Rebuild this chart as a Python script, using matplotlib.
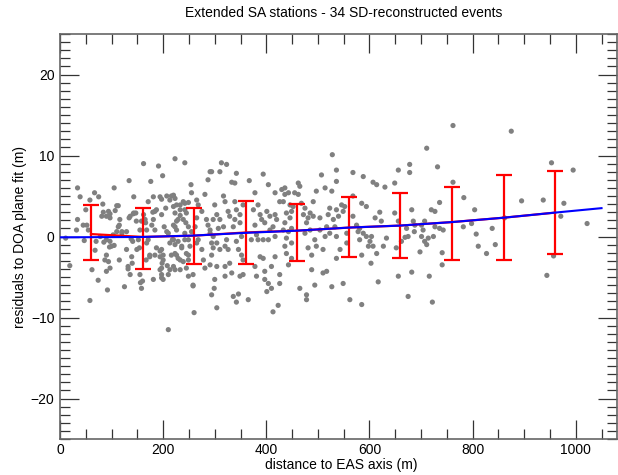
import matplotlib
matplotlib.use("Agg")
import matplotlib.pyplot as plt
from matplotlib.ticker import MultipleLocator

plt.rcParams['font.family'] = ['Liberation Sans', 'DejaVu Sans']

# ---- scatter data (distance to axis [m], residual [m]) ----
dist = [11, 19, 34, 39, 34, 32, 58, 52, 55, 67, 75, 83, 62, 74, 92, 105, 90, 94, 90, 84,
        90, 97, 85, 90, 100, 110, 107, 116, 113, 110, 120, 129, 115, 125, 134, 143, 134, 132, 140, 148,
        147, 142, 138, 141, 162, 176, 191, 199, 223, 242, 181, 171, 184, 181, 187, 178, 184, 162, 158, 166,
        155, 152, 160, 158, 155, 168, 171, 174, 184, 181, 197, 207, 216, 213, 197, 194, 200, 198, 197, 197,
        210, 220, 210, 220, 223, 226, 220, 226, 210, 213, 220, 216, 223, 233, 239, 242, 233, 239, 242, 236,
        229, 239, 245, 233, 254, 255, 249, 258, 260, 249, 255, 252, 249, 268, 275, 278, 281, 268, 275, 281,
        284, 287, 287, 291, 294, 299, 291, 294, 294,
        294, 313, 323, 310, 342, 333, 339, 300, 304, 297, 310, 317, 320, 326, 329, 291, 297, 307, 317, 304,
        297, 310, 323, 320, 326, 291, 304, 320, 329, 300, 320, 333, 304, 336, 342, 346, 339, 342, 339, 349,
        349, 336, 355, 342, 346, 352, 355, 352, 355, 349, 365, 367, 378, 394, 404, 375, 384, 388, 391, 401,
        397, 407, 407, 417, 420, 413, 378, 381, 371, 384, 394, 404, 417, 388, 394, 378, 381, 397, 397, 404,
        410, 401, 410, 417, 426, 426, 413, 423, 417, 430, 436, 443, 436, 426, 433, 446, 439, 449, 446, 452,
        436, 433, 443, 449, 439, 436, 449, 439, 449, 443, 462, 465, 455, 462, 468, 475, 472, 481, 485, 478,
        491, 485, 475, 465, 478, 478, 494, 488, 481, 488, 497, 494, 491, 497, 504, 514, 527, 507, 536, 528,
        536, 568, 588, 504, 514, 517, 510, 523, 523, 520, 530, 533, 540, 536, 546, 552, 549, 536, 543, 536,
        556, 556, 517, 510, 527, 549, 562, 585, 568, 575, 578, 581, 585, 581, 588, 594, 598, 568, 585, 594,
        607, 614, 630, 649, 620, 611, 623, 604, 601, 607, 614, 603, 627, 633, 617, 656, 678, 678, 711, 732,
        762, 875, 649, 656, 652, 662, 669, 675, 672, 685, 688, 687, 682, 656, 682, 675, 716, 722, 701, 707,
        704, 701, 707, 711, 714, 724, 727, 720, 727, 736, 736, 743, 741, 741, 698, 762, 783, 782, 804, 798,
        807, 811, 827, 838, 844, 895,
        953, 995, 937, 977, 971, 1022, 862, 957, 944,
        58, 50, 47, 45, 70, 68, 81, 97, 94, 113, 115, 103, 120, 78, 97, 96, 105, 87, 97, 132,
        136, 139, 129, 143, 136, 154, 149, 156, 165, 168, 167, 174, 180, 194, 197, 205, 202, 207, 187, 194,
        200, 208, 213, 194, 197, 200, 223, 220, 223, 226, 233, 229, 223, 218, 223, 229, 236, 226, 233, 242,
        249, 245, 244, 242, 249, 245, 249, 258, 258, 265, 265, 262, 265]
resid = [-0.2, -3.6, 6.0, 4.9, 2.1, 0.8, -7.9, 1.4, 0.8, 5.4, 4.9, 4.0, -4.1, -5.4, -6.6, 6.0, -2.3, -3.1, -4.3, 3.0,
         2.5, 2.8, -0.7, -0.4, -1.2, 3.8, 3.2, 2.1, 1.2, 0.6, 0.4, 0.6, -2.9, -6.2, 6.9, 4.9, 2.3, -3.7, -3.3, 1.9,
         2.9, 2.8, -0.3, -0.6, 9.0, 6.8, 8.7, 7.5, 9.6, 9.1, 4.9, 4.3, 3.1, 2.1, 3.3, 1.4, 0.8, 2.7, 1.9, 1.7,
         0.8, -0.4, -5.5, -6.4, -4.7, -0.8, -0.4, -2.5, -2.3, -5.3, 4.6, 5.0, 5.0, 4.5, -1.6, -2.5, -2.3, -3.3, -3.9, -5.1,
         -4.7, -3.7, -11.5, 3.7, 2.9, 1.9, 1.4, 0.8, 0.4, -0.8, -0.4, -2.3, -2.1, 3.9, 4.3, 3.3, 2.6, 2.1, -0.4, -1.2,
         -2.7, -3.1, -3.9, -4.1, 6.4, 5.4, -4.9, -6.0, -9.4, 1.2, 0.6, -1.2, -2.3, -0.4, -1.6, -2.9, -3.9, 3.9, 3.1, 5.2,
         2.1, 1.4, 7.0, 8.0, -7.2, -6.4, 0.4, -0.8, -2.3,
         8.0, 9.1, 8.9, 8.0, 7.8, 6.7, 6.6, 3.9, 2.7, 2.1, 2.1, 5.0, 4.3, 3.1, 2.5, 0.8, 0.0, 1.0, 1.2, -0.8,
         -1.4, -1.6, -0.4, -1.2, -1.6, -3.5, -3.7, -3.7, -3.3, -5.3, -4.9, -4.5, -8.8, -7.4, -8.1, -7.1, 4.3, 3.3, 2.1, 2.7,
         1.7, 1.2, 3.9, -0.6, -1.6, -2.3, -2.9, 0.0, -4.7, -4.9, -7.8, 6.9, 5.4, 7.7, 6.4, 3.3, 3.9, 2.7, 2.1, 3.1,
         1.7, 2.5, 0.8, 2.7, 2.1, 1.2, 1.4, 0.2, -0.4, -0.4, -0.4, -0.4, 0.0, -2.5, -2.7, -3.7, -4.9, -4.3, -5.3, -5.8,
         -6.4, -6.8, -3.7, -2.5, -4.7, -5.8, -9.3, -8.5, 5.4, 5.8, 5.2, 5.4, 6.0, 4.3, 4.3, 3.9, 2.9, 3.1, 2.3, 3.7,
         1.7, 0.8, 0.6, 1.0, -0.2, -1.2, -0.8, -2.1, -2.7, -3.5, 6.6, 6.2, 5.4, 5.2, 4.1, 3.5, 2.7, 2.3, 2.9, 1.7,
         2.5, 0.8, 0.4, -6.4, -7.2, -7.8, -6.0, -4.1, -1.4, -2.3, -1.2, -0.4, 4.3, 5.6, 2.3, 6.0, 5.6, 7.6, 8.2, 10.1,
         6.8, 7.9, 7.4, 0.8, 0.0, 1.2, -1.6, 0.4, 3.5, 2.7, 2.1, 1.2, 2.5, 3.3, 3.9, 3.7, 3.1, 0.0, -1.6, -2.7,
         -0.8, 0.4, -4.3, -4.5, -6.2, -5.8, -7.8, -8.4, 2.5, 1.4, 0.6, -0.4, -2.3, 1.0, 0.4, 0.0, -1.2, 5.0, 4.1, 3.7,
         6.7, 6.4, 6.1, 6.6, 3.0, 2.3, 1.9, 0.0, -0.6, -1.2, -2.1, -3.3, -1.2, -0.2, -5.6, 8.2, 8.9, 7.9, 10.9, 8.6,
         13.7, 13.0, 2.9, 1.9, -1.4, -0.6, -0.1, 0.0, 1.0, 1.9, 1.4, 0.6, 3.3, -4.9, -4.4, -7.4, -4.9, -8.1, 1.4, 1.9,
         0.8, 0.0, -0.6, -1.0, -0.2, 0.0, 1.2, 3.3, 3.1, 4.2, 1.0, 0.8, -2.0, -3.5, -1.9, 6.7, 4.8, 1.2, 3.3, 1.6,
         0.3, -1.2, -2.1, 1.0, -1.0, 4.4,
         9.1, 8.2, 4.5, 4.1, 2.5, 1.6, 2.3, -2.4, -4.8,
         4.5, 3.3, -0.5, 1.4, -0.6, -1.7, 2.5, 2.3, 3.1, 3.8, 1.4, 0.2, 0.6, 0.0, -0.6, -1.3, -1.1, -2.9, -3.9, -4.0,
         -4.7, -2.5, -1.6, 2.9, 2.5, -1.4, -1.6, -5.7, 2.1, 0.8, -2.9, -2.3, 3.0, 4.9, 2.7, 3.5, 1.2, 0.6, -1.4, -1.8,
         -2.9, -3.6, -4.1, -4.1, -4.7, -5.3, -4.1, 5.1, 4.7, 3.9, 3.3, 2.1, 1.2, -0.4, -1.0, -0.6, -1.4, -2.3, -2.9, 4.1,
         4.2, 2.9, 1.7, 0.4, -0.4, -2.1, -2.9, -4.7, -6.1, 4.5, 2.3, 1.2, -0.8]

# ---- binned means with RMS error bars (asymmetric about the drawn mean) ----
bin_x = [60, 160, 260, 360, 460, 560, 660, 760, 860, 960]
bin_mean = [0.30, -0.05, 0.10, 0.50, 0.72, 1.10, 1.35, 1.78, 2.32, 2.95]
err_lo = [3.26, 3.95, 3.50, 3.87, 3.80, 3.65, 4.02, 4.66, 5.20, 5.09]
err_hi = [3.53, 3.55, 3.36, 3.94, 3.32, 3.76, 3.96, 4.27, 5.26, 5.16]

# ---- fit curve ----
fit_x = [0, 160, 260, 360, 460, 560, 660, 760, 860, 960, 1050]
fit_y = [-0.1, -0.06, 0.12, 0.45, 0.72, 1.1, 1.35, 1.78, 2.32, 2.95, 3.5]

title = "Extended SA stations - 34 SD-reconstructed events"
xlabel = "distance to EAS axis (m)"
ylabel = "residuals to DOA plane fit (m)"

fig = plt.figure(figsize=(6.18, 4.75), dpi=100)
ax = fig.add_axes([60/618, 36/475, 557/618, 405/475])

ax.scatter(dist, resid, s=14, color='#808080', edgecolors='none', zorder=2)
ax.plot(bin_x, bin_mean, color='#ff0000', lw=1.6, zorder=3)
ax.errorbar(bin_x, bin_mean, yerr=[err_lo, err_hi], fmt='none', ecolor='#ff0000',
            elinewidth=1.6, capsize=6, capthick=1.6, zorder=3)
ax.plot(fit_x, fit_y, color='#0000ff', lw=1.5, zorder=4)

ax.set_xlim(0, 1080)
ax.set_ylim(-25, 25)
ax.xaxis.set_major_locator(MultipleLocator(200))
ax.xaxis.set_minor_locator(MultipleLocator(50))
ax.yaxis.set_major_locator(MultipleLocator(10))
ax.yaxis.set_minor_locator(MultipleLocator(1))
ax.tick_params(which='both', direction='in', top=True, right=True,
               labelsize=10, colors='#333333', labelcolor='black', width=0.9)
ax.tick_params(which='major', length=14, pad=4)
ax.tick_params(which='minor', length=7)
ax.tick_params(axis='x', which='major', pad=3)
for s in ax.spines.values():
    s.set_color('#666666')
    s.set_linewidth(1.2)

ax.set_xlabel(xlabel, fontsize=10)
ax.xaxis.label.set_va('center')
ax.xaxis.set_label_coords((341.5 - 60) / 557, (439 - 465) / 405)
ax.set_ylabel(ylabel, fontsize=10)
ax.yaxis.label.set_va('center')
ax.yaxis.set_label_coords((20 - 60) / 557, 0.5)
fig.text(344/618, 1 - 13/475, title, ha='center', va='center', fontsize=10)

fig.savefig("out.png", dpi=100)
